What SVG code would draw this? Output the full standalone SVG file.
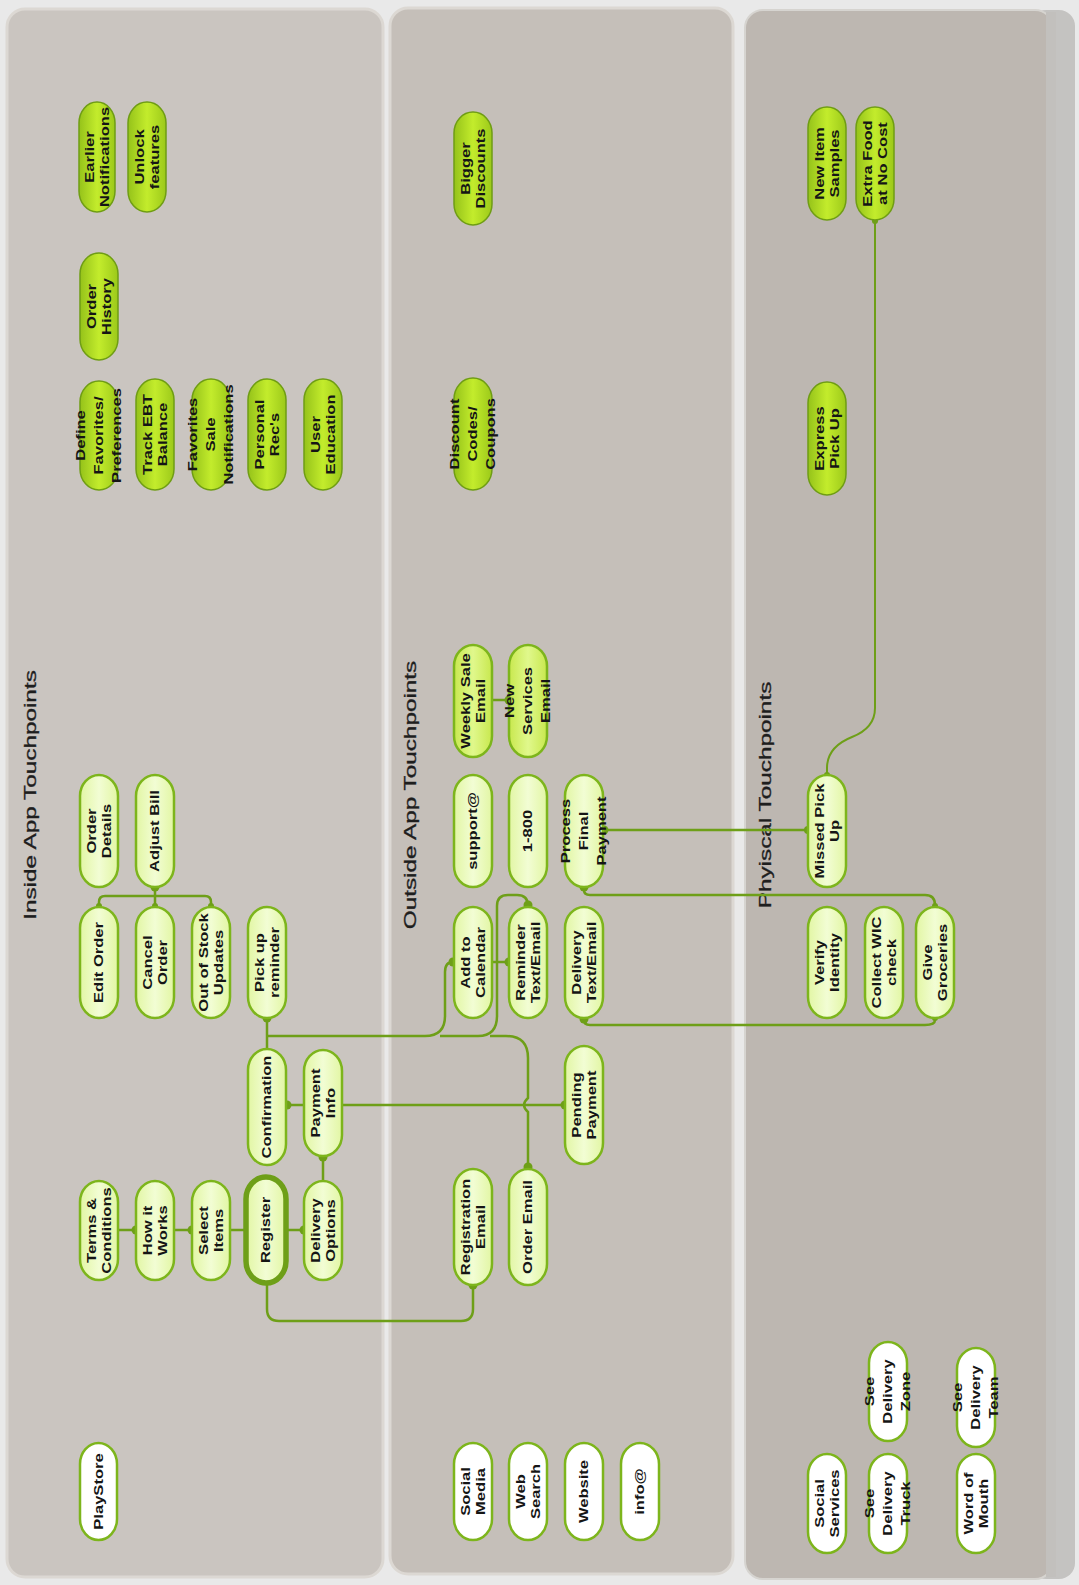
<svg xmlns="http://www.w3.org/2000/svg" width="1079" height="1585" viewBox="0 0 1079 1585">
<defs>
<style>
.bg{fill:#e9e9e9}
.pn{stroke:#dcd8d3;stroke-width:3}
.n rect{stroke:#7db51c;stroke-width:2.5}
.pale rect{fill:url(#gPale)}
.mid rect{fill:url(#gMid)}
.ben rect{fill:url(#gBen);stroke:#6f9d14;stroke-width:1.5}
.wht rect{fill:#ffffff}
.reg rect{stroke:#6e9f18;stroke-width:5.5}
.t{font-family:"Liberation Sans",Arial,sans-serif;font-weight:bold;font-size:12px;fill:#151515;text-anchor:middle}
.title{font-family:"Liberation Sans",Arial,sans-serif;font-size:16px;fill:#1e1e1e;stroke:#1e1e1e;stroke-width:0.3;text-anchor:middle}
.c{fill:none;stroke:#6e9f18;stroke-width:2.5}
.c2{fill:none;stroke:#6e9f18;stroke-width:2}
.d{fill:#6e9f18}
</style>
<linearGradient id="gBen" x1="0" x2="1" y1="0" y2="0">
<stop offset="0" stop-color="#95c21a"/><stop offset="0.5" stop-color="#c3ec2c"/><stop offset="1" stop-color="#9cc91a"/>
</linearGradient>
<linearGradient id="gMid" x1="0" x2="1" y1="0" y2="0">
<stop offset="0" stop-color="#c8e84e"/><stop offset="0.5" stop-color="#e0f88c"/><stop offset="1" stop-color="#c8e84e"/>
</linearGradient>
<linearGradient id="gPale" x1="0" x2="1" y1="0" y2="0">
<stop offset="0" stop-color="#e2f6a4"/><stop offset="0.5" stop-color="#f2fdd4"/><stop offset="1" stop-color="#e2f6a4"/>
</linearGradient>
</defs>

<rect class="bg" x="0" y="0" width="1079" height="1585"/>
<g id="panels">
<rect x="1030" y="10" width="45" height="1569" rx="16" fill="#c4c3c1"/>
<rect class="pn" x="7" y="9" width="376" height="1568" rx="18" fill="#cac5c0"/>
<rect class="pn" x="390" y="8" width="343" height="1566" rx="18" fill="#c5bfb9"/>
<rect x="745" y="10" width="308" height="1569" rx="18" fill="#bdb7b1" stroke="#d6d4d0" stroke-width="2"/>
<rect x="1046" y="12" width="10" height="1565" fill="#c2c0bd"/>
</g>

<g id="titles">
<text class="title" transform="translate(30,795) rotate(-90) scale(1.52,1)" y="5.5">Inside App Touchpoints</text>
<text class="title" transform="translate(410,795) rotate(-90) scale(1.52,1)" y="5.5">Outside App Touchpoints</text>
<text class="title" transform="translate(765,795) rotate(-90) scale(1.52,1)" y="5.5">Phyiscal Touchpoints</text>
</g>

<g id="connectors">
<path class="c" d="M155,887 V907 M99,907 V902 Q99,896 105,896 H205 Q211,896 211,902 V907"/>
<path class="c" d="M267,1018 V1049"/>
<path class="c" d="M267,1036 H425 Q445,1036 445,1016 V972 Q445,962 453,962"/>
<path class="c" d="M440,1036 H478 Q497,1036 497,1016 V906 Q497,895 508,895 H517 Q528,895 528,906"/>
<path class="c" d="M490,1036 H506 Q528,1036 528,1058 V1098 Q520,1105 528,1112 V1167"/>
<path class="c" d="M492,962 H509"/>
<path class="c" d="M286,1105 H304 M342,1105 H565"/>
<path class="c" d="M323,1156 V1181"/>
<path class="c" d="M118,1230 H136 M174,1230 H192 M230,1230 H246 M286,1230 H304"/>
<path class="c" d="M267,1283 V1309 Q267,1321 279,1321 H461 Q473,1321 473,1309 V1285"/>
<path class="c" d="M492,700 H509"/>
<path class="c" d="M603,830 H808"/>
<path class="c" d="M584,887 V890 Q584,895 590,895 H925 Q935,895 935,905 V907"/>
<path class="c" d="M584,1018 V1020 Q584,1025 590,1025 H925 Q935,1025 935,1020 V1018"/>
<path class="c2" d="M875,220 V708 Q875,728 852,737 Q827,747 827,768 V775"/>
<circle class="d" cx="155" cy="887" r="4.5"/>
<circle class="d" cx="99" cy="906" r="3"/>
<circle class="d" cx="155" cy="906" r="3"/>
<circle class="d" cx="211" cy="906" r="3"/>
<circle class="d" cx="267" cy="1018" r="4.5"/>
<circle class="d" cx="453" cy="962" r="4.5"/>
<circle class="d" cx="528" cy="905" r="4.5"/>
<circle class="d" cx="528" cy="1167" r="4.5"/>
<circle class="d" cx="509" cy="962" r="4.5"/>
<circle class="d" cx="287" cy="1105" r="4.5"/>
<circle class="d" cx="565" cy="1105" r="4.5"/>
<circle class="d" cx="323" cy="1157" r="4.5"/>
<circle class="d" cx="136" cy="1230" r="4.5"/>
<circle class="d" cx="192" cy="1230" r="4.5"/>
<circle class="d" cx="304" cy="1230" r="4.5"/>
<circle class="d" cx="473" cy="1285" r="4.5"/>
<circle class="d" cx="509" cy="700" r="4.5"/>
<circle class="d" cx="604" cy="830" r="4.5"/>
<circle class="d" cx="808" cy="830" r="4"/>
<circle class="d" cx="584" cy="887" r="4.5"/>
<circle class="d" cx="935" cy="906" r="3"/>
<circle class="d" cx="584" cy="1019" r="4.5"/>
<circle class="d" cx="935" cy="1018" r="3"/>
<circle class="d" cx="875" cy="221" r="3"/>
<circle class="d" cx="827" cy="775" r="3"/>
</g>

<!-- Panel 1: Inside App -->
<g id="n-earlier" class="n ben"><rect x="79" y="102" width="36" height="110" rx="18" ry="21"/><text class="t" transform="translate(97,157) rotate(-90) scale(1.38,1)"><tspan x="0" y="-3.3">Earlier</tspan><tspan x="0" y="11.7">Notifications</tspan></text></g>
<g id="n-unlock" class="n ben"><rect x="128" y="102" width="38" height="110" rx="19" ry="21"/><text class="t" transform="translate(147,157) rotate(-90) scale(1.38,1)"><tspan x="0" y="-3.3">Unlock</tspan><tspan x="0" y="11.7">features</tspan></text></g>
<g id="n-orderhistory" class="n ben"><rect x="80" y="253" width="38" height="107" rx="19" ry="21"/><text class="t" transform="translate(99,306.5) rotate(-90) scale(1.38,1)"><tspan x="0" y="-3.3">Order</tspan><tspan x="0" y="11.7">History</tspan></text></g>
<g id="n-define" class="n ben"><rect x="80" y="381" width="38" height="109" rx="19" ry="21"/><text class="t" transform="translate(99,435.5) rotate(-90) scale(1.38,1)"><tspan x="0" y="-13.8">Define</tspan><tspan x="0" y="4.2">Favorites/</tspan><tspan x="0" y="22.2">Preferences</tspan></text></g>
<g id="n-trackebt" class="n ben"><rect x="136" y="379" width="38" height="111" rx="19" ry="21"/><text class="t" transform="translate(155,434.5) rotate(-90) scale(1.38,1)"><tspan x="0" y="-3.3">Track EBT</tspan><tspan x="0" y="11.7">Balance</tspan></text></g>
<g id="n-favsale" class="n ben"><rect x="192" y="379" width="38" height="111" rx="19" ry="21"/><text class="t" transform="translate(211,434.5) rotate(-90) scale(1.38,1)"><tspan x="0" y="-13.8">Favorites</tspan><tspan x="0" y="4.2">Sale</tspan><tspan x="0" y="22.2">Notifications</tspan></text></g>
<g id="n-personal" class="n ben"><rect x="248" y="379" width="38" height="111" rx="19" ry="21"/><text class="t" transform="translate(267,434.5) rotate(-90) scale(1.38,1)"><tspan x="0" y="-3.3">Personal</tspan><tspan x="0" y="11.7">Rec's</tspan></text></g>
<g id="n-usered" class="n ben"><rect x="304" y="379" width="38" height="111" rx="19" ry="21"/><text class="t" transform="translate(323,434.5) rotate(-90) scale(1.38,1)"><tspan x="0" y="-3.3">User</tspan><tspan x="0" y="11.7">Education</tspan></text></g>
<g id="n-orderdetails" class="n pale"><rect x="80" y="775" width="38" height="112" rx="19" ry="21"/><text class="t" transform="translate(99,831) rotate(-90) scale(1.38,1)"><tspan x="0" y="-3.3">Order</tspan><tspan x="0" y="11.7">Details</tspan></text></g>
<g id="n-adjustbill" class="n pale"><rect x="136" y="775" width="38" height="112" rx="19" ry="21"/><text class="t" transform="translate(155,831) rotate(-90) scale(1.38,1)"><tspan x="0" y="4.2">Adjust Bill</tspan></text></g>
<g id="n-editorder" class="n pale"><rect x="80" y="907" width="38" height="111" rx="19" ry="21"/><text class="t" transform="translate(99,962.5) rotate(-90) scale(1.38,1)"><tspan x="0" y="4.2">Edit Order</tspan></text></g>
<g id="n-cancelorder" class="n pale"><rect x="136" y="907" width="38" height="111" rx="19" ry="21"/><text class="t" transform="translate(155,962.5) rotate(-90) scale(1.38,1)"><tspan x="0" y="-3.3">Cancel</tspan><tspan x="0" y="11.7">Order</tspan></text></g>
<g id="n-outofstock" class="n pale"><rect x="192" y="907" width="38" height="111" rx="19" ry="21"/><text class="t" transform="translate(211,962.5) rotate(-90) scale(1.38,1)"><tspan x="0" y="-3.3">Out of Stock</tspan><tspan x="0" y="11.7">Updates</tspan></text></g>
<g id="n-pickupreminder" class="n pale"><rect x="248" y="907" width="38" height="111" rx="19" ry="21"/><text class="t" transform="translate(267,962.5) rotate(-90) scale(1.38,1)"><tspan x="0" y="-3.3">Pick up</tspan><tspan x="0" y="11.7">reminder</tspan></text></g>
<g id="n-confirmation" class="n pale"><rect x="248" y="1049" width="38" height="116" rx="19" ry="21"/><text class="t" transform="translate(267,1107) rotate(-90) scale(1.38,1)"><tspan x="0" y="4.2">Confirmation</tspan></text></g>
<g id="n-paymentinfo" class="n pale"><rect x="304" y="1050" width="38" height="106" rx="19" ry="21"/><text class="t" transform="translate(323,1103) rotate(-90) scale(1.38,1)"><tspan x="0" y="-3.3">Payment</tspan><tspan x="0" y="11.7">Info</tspan></text></g>
<g id="n-terms" class="n pale"><rect x="80" y="1181" width="38" height="99" rx="19" ry="21"/><text class="t" transform="translate(99,1230.5) rotate(-90) scale(1.38,1)"><tspan x="0" y="-3.3">Terms &amp;</tspan><tspan x="0" y="11.7">Conditions</tspan></text></g>
<g id="n-howitworks" class="n pale"><rect x="136" y="1181" width="38" height="99" rx="19" ry="21"/><text class="t" transform="translate(155,1230.5) rotate(-90) scale(1.38,1)"><tspan x="0" y="-3.3">How it</tspan><tspan x="0" y="11.7">Works</tspan></text></g>
<g id="n-selectitems" class="n pale"><rect x="192" y="1181" width="38" height="99" rx="19" ry="21"/><text class="t" transform="translate(211,1230.5) rotate(-90) scale(1.38,1)"><tspan x="0" y="-3.3">Select</tspan><tspan x="0" y="11.7">Items</tspan></text></g>
<g id="n-register" class="n pale reg"><rect x="246" y="1177" width="40" height="106" rx="20" ry="22"/><text class="t" transform="translate(266,1230) rotate(-90) scale(1.38,1)"><tspan x="0" y="4.2">Register</tspan></text></g>
<g id="n-deliveryoptions" class="n pale"><rect x="304" y="1181" width="38" height="99" rx="19" ry="21"/><text class="t" transform="translate(323,1230.5) rotate(-90) scale(1.38,1)"><tspan x="0" y="-3.3">Delivery</tspan><tspan x="0" y="11.7">Options</tspan></text></g>
<g id="n-playstore" class="n wht"><rect x="80" y="1443" width="37" height="97" rx="18.5" ry="21"/><text class="t" transform="translate(98.5,1491.5) rotate(-90) scale(1.38,1)"><tspan x="0" y="4.2">PlayStore</tspan></text></g>

<!-- Panel 2: Outside App -->
<g id="n-bigger" class="n ben"><rect x="454" y="112" width="38" height="113" rx="19" ry="21"/><text class="t" transform="translate(473,168.5) rotate(-90) scale(1.38,1)"><tspan x="0" y="-3.3">Bigger</tspan><tspan x="0" y="11.7">Discounts</tspan></text></g>
<g id="n-discount" class="n ben"><rect x="454" y="378" width="38" height="112" rx="19" ry="21"/><text class="t" transform="translate(473,434) rotate(-90) scale(1.38,1)"><tspan x="0" y="-13.8">Discount</tspan><tspan x="0" y="4.2">Codes/</tspan><tspan x="0" y="22.2">Coupons</tspan></text></g>
<g id="n-weekly" class="n mid"><rect x="454" y="645" width="38" height="112" rx="19" ry="21"/><text class="t" transform="translate(473,701) rotate(-90) scale(1.38,1)"><tspan x="0" y="-3.3">Weekly Sale</tspan><tspan x="0" y="11.7">Email</tspan></text></g>
<g id="n-newservices" class="n mid"><rect x="509" y="645" width="38" height="112" rx="19" ry="21"/><text class="t" transform="translate(528,701) rotate(-90) scale(1.38,1)"><tspan x="0" y="-13.8">New</tspan><tspan x="0" y="4.2">Services</tspan><tspan x="0" y="22.2">Email</tspan></text></g>
<g id="n-support" class="n pale"><rect x="454" y="775" width="38" height="112" rx="19" ry="21"/><text class="t" transform="translate(473,831) rotate(-90) scale(1.38,1)"><tspan x="0" y="4.2">support@</tspan></text></g>
<g id="n-1800" class="n pale"><rect x="509" y="775" width="38" height="112" rx="19" ry="21"/><text class="t" transform="translate(528,831) rotate(-90) scale(1.38,1)"><tspan x="0" y="4.2">1-800</tspan></text></g>
<g id="n-processpayment" class="n pale"><rect x="565" y="775" width="38" height="112" rx="19" ry="21"/><text class="t" transform="translate(584,831) rotate(-90) scale(1.38,1)"><tspan x="0" y="-13.8">Process</tspan><tspan x="0" y="4.2">Final</tspan><tspan x="0" y="22.2">Payment</tspan></text></g>
<g id="n-addcalendar" class="n pale"><rect x="454" y="907" width="38" height="111" rx="19" ry="21"/><text class="t" transform="translate(473,962.5) rotate(-90) scale(1.38,1)"><tspan x="0" y="-3.3">Add to</tspan><tspan x="0" y="11.7">Calendar</tspan></text></g>
<g id="n-reminder" class="n pale"><rect x="509" y="907" width="38" height="111" rx="19" ry="21"/><text class="t" transform="translate(528,962.5) rotate(-90) scale(1.38,1)"><tspan x="0" y="-3.3">Reminder</tspan><tspan x="0" y="11.7">Text/Email</tspan></text></g>
<g id="n-deliverytext" class="n pale"><rect x="565" y="907" width="38" height="111" rx="19" ry="21"/><text class="t" transform="translate(584,962.5) rotate(-90) scale(1.38,1)"><tspan x="0" y="-3.3">Delivery</tspan><tspan x="0" y="11.7">Text/Email</tspan></text></g>
<g id="n-pending" class="n pale"><rect x="565" y="1046" width="38" height="118" rx="19" ry="21"/><text class="t" transform="translate(584,1105) rotate(-90) scale(1.38,1)"><tspan x="0" y="-3.3">Pending</tspan><tspan x="0" y="11.7">Payment</tspan></text></g>
<g id="n-regemail" class="n pale"><rect x="454" y="1169" width="38" height="116" rx="19" ry="21"/><text class="t" transform="translate(473,1227) rotate(-90) scale(1.38,1)"><tspan x="0" y="-3.3">Registration</tspan><tspan x="0" y="11.7">Email</tspan></text></g>
<g id="n-orderemail" class="n pale"><rect x="509" y="1169" width="38" height="116" rx="19" ry="21"/><text class="t" transform="translate(528,1227) rotate(-90) scale(1.38,1)"><tspan x="0" y="4.2">Order Email</tspan></text></g>
<g id="n-socialmedia" class="n wht"><rect x="454" y="1443" width="38" height="97" rx="19" ry="21"/><text class="t" transform="translate(473,1491.5) rotate(-90) scale(1.38,1)"><tspan x="0" y="-3.3">Social</tspan><tspan x="0" y="11.7">Media</tspan></text></g>
<g id="n-websearch" class="n wht"><rect x="509" y="1443" width="38" height="97" rx="19" ry="21"/><text class="t" transform="translate(528,1491.5) rotate(-90) scale(1.38,1)"><tspan x="0" y="-3.3">Web</tspan><tspan x="0" y="11.7">Search</tspan></text></g>
<g id="n-website" class="n wht"><rect x="565" y="1443" width="38" height="97" rx="19" ry="21"/><text class="t" transform="translate(584,1491.5) rotate(-90) scale(1.38,1)"><tspan x="0" y="4.2">Website</tspan></text></g>
<g id="n-info" class="n wht"><rect x="621" y="1443" width="38" height="97" rx="19" ry="21"/><text class="t" transform="translate(640,1491.5) rotate(-90) scale(1.38,1)"><tspan x="0" y="4.2">info@</tspan></text></g>

<!-- Panel 3: Physical -->
<g id="n-newitem" class="n ben"><rect x="808" y="107" width="38" height="113" rx="19" ry="21"/><text class="t" transform="translate(827,163.5) rotate(-90) scale(1.38,1)"><tspan x="0" y="-3.3">New Item</tspan><tspan x="0" y="11.7">Samples</tspan></text></g>
<g id="n-extrafood" class="n ben"><rect x="856" y="107" width="38" height="113" rx="19" ry="21"/><text class="t" transform="translate(875,163.5) rotate(-90) scale(1.38,1)"><tspan x="0" y="-3.3">Extra Food</tspan><tspan x="0" y="11.7">at No Cost</tspan></text></g>
<g id="n-express" class="n ben"><rect x="808" y="382" width="38" height="113" rx="19" ry="21"/><text class="t" transform="translate(827,438.5) rotate(-90) scale(1.38,1)"><tspan x="0" y="-3.3">Express</tspan><tspan x="0" y="11.7">Pick Up</tspan></text></g>
<g id="n-missed" class="n pale"><rect x="808" y="775" width="38" height="112" rx="19" ry="21"/><text class="t" transform="translate(827,831) rotate(-90) scale(1.38,1)"><tspan x="0" y="-3.3">Missed Pick</tspan><tspan x="0" y="11.7">Up</tspan></text></g>
<g id="n-verify" class="n pale"><rect x="808" y="907" width="38" height="111" rx="19" ry="21"/><text class="t" transform="translate(827,962.5) rotate(-90) scale(1.38,1)"><tspan x="0" y="-3.3">Verify</tspan><tspan x="0" y="11.7">Identity</tspan></text></g>
<g id="n-collect" class="n pale"><rect x="865" y="907" width="38" height="111" rx="19" ry="21"/><text class="t" transform="translate(884,962.5) rotate(-90) scale(1.38,1)"><tspan x="0" y="-3.3">Collect WIC</tspan><tspan x="0" y="11.7">check</tspan></text></g>
<g id="n-give" class="n pale"><rect x="916" y="907" width="38" height="111" rx="19" ry="21"/><text class="t" transform="translate(935,962.5) rotate(-90) scale(1.38,1)"><tspan x="0" y="-3.3">Give</tspan><tspan x="0" y="11.7">Groceries</tspan></text></g>
<g id="n-socialservices" class="n wht"><rect x="808" y="1454" width="38" height="99" rx="19" ry="21"/><text class="t" transform="translate(827,1503.5) rotate(-90) scale(1.38,1)"><tspan x="0" y="-3.3">Social</tspan><tspan x="0" y="11.7">Services</tspan></text></g>
<g id="n-seezone" class="n wht"><rect x="869" y="1342" width="38" height="99" rx="19" ry="21"/><text class="t" transform="translate(888,1391.5) rotate(-90) scale(1.38,1)"><tspan x="0" y="-13.8">See</tspan><tspan x="0" y="4.2">Delivery</tspan><tspan x="0" y="22.2">Zone</tspan></text></g>
<g id="n-seetruck" class="n wht"><rect x="869" y="1454" width="38" height="99" rx="19" ry="21"/><text class="t" transform="translate(888,1503.5) rotate(-90) scale(1.38,1)"><tspan x="0" y="-13.8">See</tspan><tspan x="0" y="4.2">Delivery</tspan><tspan x="0" y="22.2">Truck</tspan></text></g>
<g id="n-seeteam" class="n wht"><rect x="957" y="1348" width="38" height="99" rx="19" ry="21"/><text class="t" transform="translate(976,1397.5) rotate(-90) scale(1.38,1)"><tspan x="0" y="-13.8">See</tspan><tspan x="0" y="4.2">Delivery</tspan><tspan x="0" y="22.2">Team</tspan></text></g>
<g id="n-wordofmouth" class="n wht"><rect x="957" y="1454" width="38" height="99" rx="19" ry="21"/><text class="t" transform="translate(976,1503.5) rotate(-90) scale(1.38,1)"><tspan x="0" y="-3.3">Word of</tspan><tspan x="0" y="11.7">Mouth</tspan></text></g>
</svg>
